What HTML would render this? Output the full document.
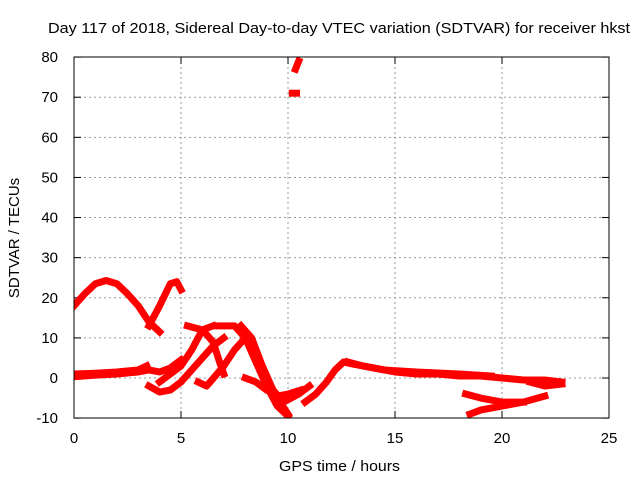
<!DOCTYPE html>
<html><head><meta charset="utf-8"><style>
body{margin:0;background:#fff}
svg{display:block;font-family:"Liberation Sans",sans-serif}
</style></head><body>
<svg width="640" height="480">
<rect width="640" height="480" fill="#fff"/>
<text x="48" y="33" font-size="15" textLength="582" lengthAdjust="spacingAndGlyphs">Day 117 of 2018, Sidereal Day-to-day VTEC variation (SDTVAR) for receiver hkst</text>
<g id="grid"></g>
<g id="axes"></g>
<defs><clipPath id="clip"><rect x="74" y="57" width="535" height="361"/></clipPath></defs>
<g id="series" clip-path="url(#clip)"></g>
<rect x="74" y="57" width="535" height="361" fill="none" stroke="#000"/>
<text x="279" y="471" font-size="15" textLength="121" lengthAdjust="spacingAndGlyphs">GPS time / hours</text>
<text transform="translate(19,238) rotate(-90)" font-size="15" text-anchor="middle">SDTVAR / TECUs</text>
</svg>
<script>
const xTicks=[0,5,10,15,20,25];
const yTicks=[-10,0,10,20,30,40,50,60,70,80];
const s1=[[0,18],[0.5,21],[1,23.5],[1.5,24.3],[2,23.5],[2.5,21],[3,18],[3.5,14],[4,11.5]];
const s2=[[3.5,13],[4,18],[4.5,23.5],[4.8,24],[5,22]];
const s3=[[0,0.3],[1,0.7],[2,1],[3,1.5],[3.5,2],[4,1.5],[4.5,2.5],[5,4.5]];
const s3b=[[0,1],[1,1.2],[2,1.5],[3,2],[3.4,3]];
const s4=[[3.5,-2],[4,-3.5],[4.5,-3],[5,-1],[5.5,2],[6,5],[6.5,8],[7,10]];
const s5=[[4,-1],[5,3],[5.5,7],[6,12],[6.5,13]];
const s6=[[5.3,13],[6,12],[6.5,9],[6.8,4],[7,1]];
const s7=[[5.8,-1],[6.2,-2],[7,3],[7.5,7],[8,10],[8.5,6],[9,0],[9.5,-5],[10,-9]];
const s8=[[6.7,13],[7.5,13],[8,10],[8.5,4],[9,-2],[9.5,-7],[10,-9.5]];
const s9=[[7.8,13],[8.3,10],[8.8,3],[9.3,-3],[9.8,-6],[10.5,-4],[11,-2]];
const s10=[[8,0],[8.5,-1],[9,-3],[9.5,-4.5],[10,-4],[10.6,-3]];
const s11=[[10.8,-6],[11.3,-4],[11.8,-1],[12.2,2],[12.6,4],[13,3.5],[14,2.5],[15,1.5],[16,1],[17,1],[18,0.5],[19,0.5],[20,0],[21,-0.5],[22,-0.5],[22.8,-1]];
const s12=[[12.8,4],[13.5,3],[14.5,2],[16,1.5],[18,1],[19.5,0.5]];
const s13=[[18.5,-9],[19,-8],[20,-7],[21,-6],[22,-4.5]];
const s14=[[18.3,-4],[19,-5],[20,-6],[21,-6]];
const s15=[[21.3,-1],[22,-2],[22.8,-1.5]];
const s16=[[10.2,71],[10.4,71]];
const s17=[[10.35,77],[10.5,79]];
const allSeries=[s1,s2,s3,s3b,s4,s5,s6,s7,s8,s9,s10,s11,s12,s13,s14,s15,s16,s17];
const X=h=>74+h*535/25, Y=v=>378-v*361/90;
const NS="http://www.w3.org/2000/svg";
const grid=document.getElementById('grid'),axes=document.getElementById('axes'),ser=document.getElementById('series');
function mk(t,a,p){const e=document.createElementNS(NS,t);for(const k in a)e.setAttribute(k,a[k]);p.appendChild(e);return e;}
xTicks.forEach(t=>{const x=X(t);
 if(t>0&&t<25){const g=mk('line',{x1:x,x2:x,y1:57,y2:418,stroke:'#999','stroke-dasharray':'2,3'},grid);
 
 }
 mk('line',{x1:x,x2:x,y1:418,y2:411,stroke:'#000'},axes);mk('line',{x1:x,x2:x,y1:57,y2:64,stroke:'#000'},axes);
 const l=mk('text',{x:x,y:443,'font-size':15,'text-anchor':'middle'},axes);l.textContent=t;
 
 });
yTicks.forEach(t=>{const y=Y(t);
 if(t>-10&&t<80){const g=mk('line',{x1:74,x2:609,y1:y,y2:y,stroke:'#999','stroke-dasharray':'2,3'},grid);
 
 }
 mk('line',{x1:74,x2:81,y1:y,y2:y,stroke:'#000'},axes);mk('line',{x1:609,x2:602,y1:y,y2:y,stroke:'#000'},axes);
 const l=mk('text',{x:58,y:y+5,'font-size':15,'text-anchor':'end'},axes);l.textContent=t;
 
 });
allSeries.forEach((s,i)=>{const p=mk('polyline',{points:s.map(d=>X(d[0])+','+Y(d[1])).join(' '),fill:'none',stroke:'#f00','stroke-width':7,'stroke-linejoin':'round','stroke-linecap':'square'},ser);
 
 });
</script>
</body></html>
